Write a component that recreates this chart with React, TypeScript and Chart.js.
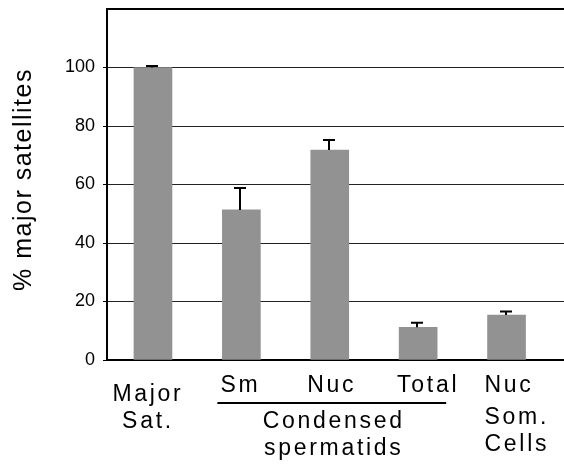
import React, { useEffect, useRef } from "react";
import { Chart, registerables } from "chart.js";

Chart.register(...registerables);

// ---- data ----
const categories = ["Major Sat.", "Sm", "Nuc", "Total", "Nuc Som. Cells"];
const categoryLabelLines = [["Major", "Sat."], ["Sm"], ["Nuc"], ["Total"], ["Nuc", "Som.", "Cells"]];
const values = [100, 51.3, 71.8, 11.2, 15.4];
const errorsUp = [0.5, 7.5, 3.4, 1.5, 1.2];
const groupLabelLines = ["Condensed", "spermatids"];
const groupFirst = 1;
const groupLast = 3;
const yTicks = [0, 20, 40, 60, 80, 100];
const yMax = 120;
const yTitle = "% major satellites";

// ---- style ----
const FONT = '"Liberation Sans", Arial, Helvetica, sans-serif';
const BAR_COLOR = "#929292";
// per-category label placement (x offset from bar centre, alignment, baselines)
const labelPlacement = [
  { dx: -5, align: "center", baselines: [401, 428] },
  { dx: -1, align: "center", baselines: [392] },
  { dx: 2, align: "center", baselines: [392] },
  { dx: 10, align: "center", baselines: [392] },
  { dx: -22, align: "left", baselines: [392, 424, 451] },
];
const groupBaselines = [428, 455];
const groupLineY = 403;

const overlayPlugin = {
  id: "overlay",
  afterDatasetsDraw(chart: any) {
    const { ctx, scales } = chart;
    const x = scales.x;
    const y = scales.y;
    ctx.save();
    ctx.strokeStyle = "#000";
    ctx.lineWidth = 2;
    values.forEach((v, i) => {
      const cx = Math.round(x.getPixelForValue(i)) - 1;
      const y0 = y.getPixelForValue(v);
      const y1 = y.getPixelForValue(v + errorsUp[i]);
      ctx.beginPath();
      ctx.moveTo(cx, y0);
      ctx.lineTo(cx, y1);
      ctx.moveTo(cx - 6, y1);
      ctx.lineTo(cx + 6, y1);
      ctx.stroke();
    });
    ctx.restore();
  },
  afterDraw(chart: any) {
    const { ctx, scales, chartArea } = chart;
    const x = scales.x;
    ctx.save();
    ctx.fillStyle = "#000";
    ctx.textBaseline = "alphabetic";
    // category labels
    ctx.font = `23px ${FONT}`;
    (ctx as any).letterSpacing = "2.7px";
    categoryLabelLines.forEach((lines, i) => {
      const p = labelPlacement[i];
      const cx = x.getPixelForValue(i) + p.dx;
      ctx.textAlign = p.align;
      lines.forEach((t, j) => ctx.fillText(t, cx, p.baselines[j]));
    });
    // group bracket + label
    const gx0 = x.getPixelForValue(groupFirst) - 24;
    const gx1 = x.getPixelForValue(groupLast) + 28;
    ctx.strokeStyle = "#000";
    ctx.lineWidth = 2;
    ctx.beginPath();
    ctx.moveTo(gx0, groupLineY);
    ctx.lineTo(gx1, groupLineY);
    ctx.stroke();
    ctx.textAlign = "center";
    const gc = (x.getPixelForValue(groupFirst) + x.getPixelForValue(groupLast)) / 2 + 4;
    groupLabelLines.forEach((t, j) => ctx.fillText(t, gc, groupBaselines[j]));
    // y title
    ctx.font = `25px ${FONT}`;
    (ctx as any).letterSpacing = "1.5px";
    ctx.translate(31, (chartArea.top + chartArea.bottom) / 2 - 5);
    ctx.rotate(-Math.PI / 2);
    ctx.textAlign = "center";
    ctx.fillText(yTitle, 0, 0);
    ctx.restore();
  },
};

export default function App() {
  const ref = useRef<HTMLCanvasElement | null>(null);
  useEffect(() => {
    if (!ref.current) return;
    const chart = new Chart(ref.current, {
      type: "bar",
      data: {
        labels: categories,
        datasets: [
          {
            data: values.map((v, i) => ({ x: i, y: v })),
            backgroundColor: BAR_COLOR,
            borderWidth: 0,
            barThickness: 38,
          },
        ],
      },
      options: {
        animation: false,
        responsive: false,
        devicePixelRatio: 1,
        layout: { padding: { top: 9, left: 0, right: 0, bottom: 0 } },
        plugins: { legend: { display: false }, tooltip: { enabled: false } },
        scales: {
          x: {
            type: "linear",
            offset: false,
            min: -0.52,
            max: 4.65,
            grid: { display: false, drawTicks: false, offset: false },
            ticks: { display: false },
            border: { display: true, color: "#000", width: 2 },
            afterFit: (s: any) => {
              s.height = 115;
              s.paddingLeft = 0;
              s.paddingRight = 0;
            },
          },
          y: {
            min: 0,
            max: yMax,
            afterBuildTicks: (s: any) => {
              s.ticks = [...yTicks, yMax].map((v) => ({ value: v }));
            },
            ticks: {
              callback: (v: any) => (v === yMax ? "" : String(v)),
              font: { family: FONT, size: 18 },
              color: "#000",
              padding: 8,
            },
            grid: {
              color: (c: any) => (c.tick && c.tick.value === yMax ? "#000" : "#222"),
              lineWidth: (c: any) => (c.tick && c.tick.value === yMax ? 2 : 1),
              tickLength: 4,
              tickColor: (c: any) => (c.tick && c.tick.value === yMax ? "rgba(0,0,0,0)" : "#000"),
            },
            border: { display: true, color: "#000", width: 2 },
            afterFit: (s: any) => {
              s.width = 107;
              s.paddingTop = 0;
              s.paddingBottom = 0;
            },
          },
        },
      },
      plugins: [overlayPlugin],
    } as any);
    return () => chart.destroy();
  }, []);
  return (
    <div style={{ position: "absolute", left: 0, top: 0, width: 564, height: 475, background: "#fff" }}>
      <canvas ref={ref} width={564} height={475} style={{ display: "block" }} />
    </div>
  );
}
